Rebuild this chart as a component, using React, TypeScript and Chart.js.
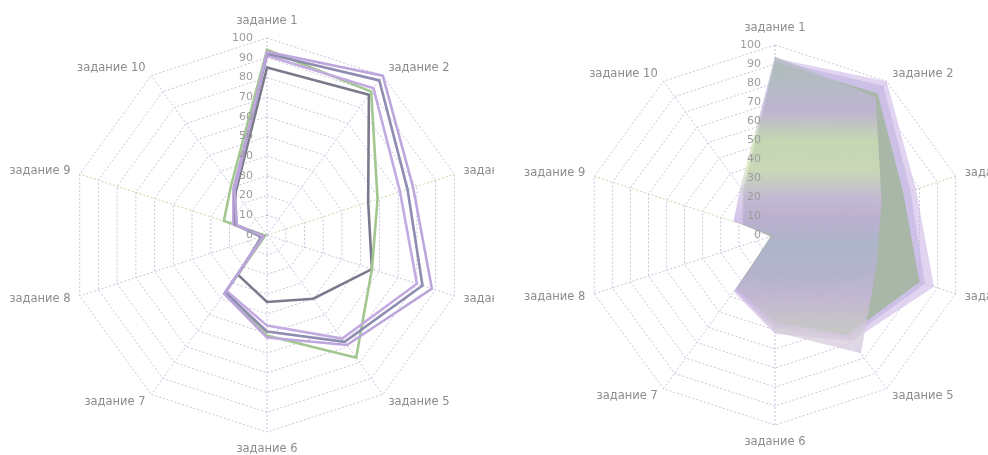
import { useEffect, useRef } from "react";
import { Chart, registerables } from "chart.js";

Chart.register(...registerables);

const categories = [
  "задание 1",
  "задание 2",
  "задание 3",
  "задание 4",
  "задание 5",
  "задание 6",
  "задание 7",
  "задание 8",
  "задание 9",
  "задание 10",
];

const seriesA = [93, 100, 78, 88, 69, 52, 37, 2, 16, 28];
const seriesB = [92, 97, 75, 83, 67, 49, 36, 2, 17, 28];
const seriesC = [91, 92, 71, 80, 65, 46, 35, 2, 18, 29];
const seriesD = [94, 90, 59, 56, 77, 51, 36, 1, 23, 31];
const seriesE = [85, 88, 54, 56, 40, 34, 25, 3, 18, 27];

const tickValues = [0, 10, 20, 30, 40, 50, 60, 70, 80, 90, 100];

const allSeries = [seriesA, seriesB, seriesC, seriesD, seriesE];

const lineColors = ["#bca6dc", "#8e8cb0", "#c3aae0", "#a2c890", "#7a7a8c"];
// drawing order for the filled chart: lower = on top
const fillOrder = [3, 2, 1, 0, 4];
const fillColors = [
  "rgba(204,184,232,0.6)",
  "rgba(192,178,224,0.6)",
  "rgba(146,178,128,0.62)",
  "band",
  "rgba(176,176,206,0.4)",
];

// banded fill (position along the chart height, colour)
const bandStops: [number, string][] = [
  [0.0, "rgba(170,186,180,0.7)"],
  [0.1, "rgba(186,190,210,0.7)"],
  [0.17, "rgba(200,178,226,0.7)"],
  [0.25, "rgba(208,226,184,0.72)"],
  [0.33, "rgba(214,228,188,0.72)"],
  [0.4, "rgba(206,188,228,0.7)"],
  [0.46, "rgba(196,172,224,0.7)"],
  [0.52, "rgba(176,180,216,0.7)"],
  [0.6, "rgba(186,178,220,0.7)"],
  [0.66, "rgba(204,182,228,0.7)"],
  [0.75, "rgba(212,206,210,0.7)"],
  [0.84, "rgba(208,188,230,0.7)"],
  [1.0, "rgba(212,192,232,0.7)"],
];

const textPlugin = {
  id: "radarText",
  afterDatasetsDraw(chart: any) {
    const s = chart.scales.r;
    const ctx = chart.ctx;
    ctx.save();
    ctx.fillStyle = "#8c8c8c";
    ctx.font = '11.5px "DejaVu Sans"';
    ctx.textBaseline = "middle";
    categories.forEach((lab, i) => {
      const a = (i * 2 * Math.PI) / categories.length;
      const sn = Math.sin(a);
      let p;
      let align: CanvasTextAlign;
      if (Math.abs(sn) < 0.1) {
        p = s.getPointPosition(i, s.drawingArea + 17);
        align = "center";
      } else {
        p = s.getPointPosition(i, s.drawingArea + 9.5);
        align = sn > 0 ? "left" : "right";
      }
      ctx.textAlign = align;
      ctx.fillText(lab, p.x, p.y);
    });
    ctx.font = '11px "DejaVu Sans"';
    ctx.fillStyle = "#9c9c9c";
    ctx.textAlign = "right";
    tickValues.forEach((v) => {
      const d = s.getDistanceFromCenterForValue(v);
      ctx.fillText(String(v), s.xCenter - 14, s.yCenter - d);
    });
    ctx.restore();
  },
};

function bandFill(c: any) {
  const chart = c.chart;
  const area = chart.chartArea;
  if (!area) return "rgba(200,180,226,0.7)";
  const g = chart.ctx.createLinearGradient(0, area.top, 0, area.bottom);
  bandStops.forEach(([p, col]) => g.addColorStop(p, col));
  return g;
}

function RadarPanel(props: {
  filled: boolean;
  padding: { left: number; right: number; top: number; bottom: number };
  left: number;
}) {
  const ref = useRef<HTMLCanvasElement | null>(null);
  useEffect(() => {
    if (!ref.current) return;
    const datasets = allSeries.map((data, i) =>
      props.filled
        ? {
            data,
            order: fillOrder[i],
            fill: "origin",
            backgroundColor: fillColors[i] === "band" ? bandFill : fillColors[i],
            borderColor: "rgba(0,0,0,0)",
            borderWidth: 0,
            pointRadius: 0,
            tension: 0,
          }
        : {
            data,
            fill: false,
            backgroundColor: "rgba(0,0,0,0)",
            borderColor: lineColors[i],
            borderWidth: 2.6,
            pointRadius: 0,
            tension: 0,
          }
    );
    const chart = new Chart(ref.current, {
      type: "radar",
      data: { labels: categories, datasets: datasets as any },
      options: {
        animation: false,
        responsive: false,
        layout: { padding: props.padding },
        plugins: { legend: { display: false }, tooltip: { enabled: false } },
        scales: {
          r: {
            min: 0,
            max: 100,
            ticks: { display: false, stepSize: 10 },
            pointLabels: { display: false },
            grid: { color: "#c8c4dc", lineWidth: 1 },
            border: { dash: [2, 2] },
            angleLines: {
              color: (ctx: any) =>
                ctx.index === 2 || ctx.index === 8 ? "#b9dba4" : "#c8c4dc",
              lineWidth: 1,
              borderDash: [2, 2],
            },
          },
        },
      },
      plugins: [textPlugin],
    });
    return () => chart.destroy();
  }, []);
  return (
    <canvas
      ref={ref}
      width={494}
      height={455}
      style={{
        position: "absolute",
        left: props.left,
        top: 0,
        width: 494,
        height: 455,
        background: "#ffffff",
        display: "block",
      }}
    />
  );
}

export default function App() {
  return (
    <div
      style={{
        position: "absolute",
        left: 0,
        top: 0,
        width: 988,
        height: 455,
        overflow: "hidden",
        background: "#ffffff",
      }}
    >
      <RadarPanel filled={false} left={0} padding={{ left: 70, right: 30, top: 38, bottom: 23 }} />
      <RadarPanel filled={true} left={494} padding={{ left: 91, right: 23, top: 45, bottom: 30 }} />
    </div>
  );
}
